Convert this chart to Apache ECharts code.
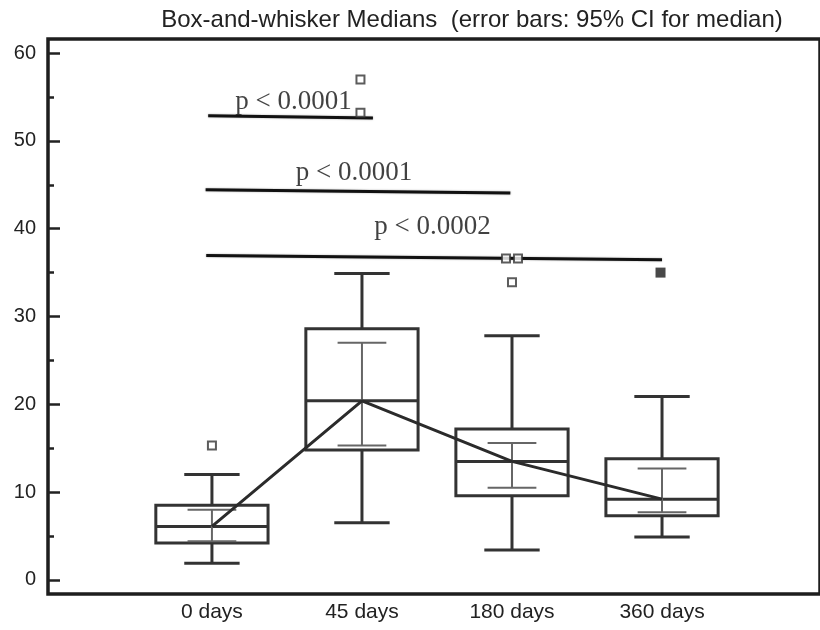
<!DOCTYPE html>
<html>
<head>
<meta charset="utf-8">
<script src="https://cdn.jsdelivr.net/npm/echarts@6/dist/echarts.min.js"></script>
<style>
html,body{margin:0;padding:0;background:#fff;}
#chart{width:820px;height:630px;}
</style>
</head>
<body>
<div id="chart"></div>
<script>
// ---- data ----
const categories = ['0 days', '45 days', '180 days', '360 days'];
const positions = [1, 2, 3, 4];
const whiskerLow = [1.9, 6.5, 3.4, 4.9];
const q1 = [4.2, 14.8, 9.6, 7.3];
const median = [6.1, 20.4, 13.5, 9.2];
const q3 = [8.5, 28.6, 17.2, 13.8];
const whiskerHigh = [12.0, 34.9, 27.8, 20.9];
const ciLow = [4.4, 15.3, 10.5, 7.7];
const ciHigh = [8.0, 27.0, 15.6, 12.7];
const outliers = [[1.0, 15.3], [1.99, 57.0], [1.99, 53.2], [3.0, 33.9], [2.96, 36.6], [3.04, 36.6]];
const farOutliers = [[3.99, 35.0]];
const yTicks = [0, 10, 20, 30, 40, 50, 60];
const yMinorTicks = [5, 15, 25, 35, 45, 55];
// significance annotations: [x0, y0, x1, y1]
const sigLines = [[0.975, 52.85, 2.073, 52.6], [0.958, 44.43, 2.989, 44.05], [0.962, 36.94, 4.0, 36.45]];
const sigLabels = ['p < 0.0001', 'p < 0.0001', 'p < 0.0002'];
const sigLabelPos = [[1.543, 54.4], [1.947, 46.3], [2.470, 40.2]];

const boxData = positions.map((x, i) => [x, whiskerLow[i], q1[i], median[i], q3[i], whiskerHigh[i], ciLow[i], ciHigh[i]]);
const medianLine = positions.map((x, i) => [x, median[i]]);

const BOX_W = 0.748, CAP_W = 0.369, CI_W = 0.325;
const dark = '#333333';

function renderBox(params, api) {
  const x = api.value(0);
  const wl = api.value(1), lq = api.value(2), md = api.value(3), uq = api.value(4), wh = api.value(5);
  const cl = api.value(6), ch = api.value(7);
  const bw = api.size([BOX_W, 0])[0];
  const cw = api.size([CAP_W, 0])[0];
  const ciw = api.size([CI_W, 0])[0];
  const pTop = api.coord([x, uq]);
  const pBot = api.coord([x, lq]);
  const pMed = api.coord([x, md]);
  const pWh = api.coord([x, wh]);
  const pWl = api.coord([x, wl]);
  const pCh = api.coord([x, ch]);
  const pCl = api.coord([x, cl]);
  const cx = pTop[0];
  const ls = {stroke: dark, lineWidth: 3, fill: null};
  const cs = {stroke: '#666', lineWidth: 2, fill: null};
  const line = (x1, y1, x2, y2, s) => ({type: 'line', shape: {x1, y1, x2, y2}, style: s});
  return {
    type: 'group',
    children: [
      {type: 'rect', shape: {x: cx - bw / 2, y: pTop[1], width: bw, height: pBot[1] - pTop[1]}, style: ls},
      line(cx - bw / 2, pMed[1], cx + bw / 2, pMed[1], ls),
      line(cx, pTop[1], cx, pWh[1], ls),
      line(cx - cw / 2, pWh[1], cx + cw / 2, pWh[1], ls),
      line(cx, pBot[1], cx, pWl[1], ls),
      line(cx - cw / 2, pWl[1], cx + cw / 2, pWl[1], ls),
      line(cx, pCh[1], cx, pCl[1], cs),
      line(cx - ciw / 2, pCh[1], cx + ciw / 2, pCh[1], cs),
      line(cx - ciw / 2, pCl[1], cx + ciw / 2, pCl[1], cs)
    ]
  };
}

const chart = echarts.init(document.getElementById('chart'), null, {renderer: 'canvas'});
const series = [
  {
    type: 'custom', renderItem: renderBox, data: boxData,
    encode: {x: 0, y: [1, 2, 3, 4, 5, 6, 7]}, z: 3, silent: true
  },
  {
    type: 'line', data: medianLine, symbol: 'none', z: 4,
    lineStyle: {color: '#2b2b2b', width: 3}
  },
  {
    type: 'scatter', data: outliers, symbol: 'rect', symbolSize: 8, z: 5,
    itemStyle: {color: '#fff', borderColor: dark, borderWidth: 2}
  },
  {
    type: 'scatter', data: farOutliers, symbol: 'rect', symbolSize: 10, z: 5,
    itemStyle: {color: '#484848', borderColor: '#484848', borderWidth: 0, opacity: 1}
  }
];
sigLines.forEach(s => {
  series.push({
    type: 'line', data: [[s[0], s[1]], [s[2], s[3]]], symbol: 'none', z: 4,
    lineStyle: {color: '#111', width: 3, shadowColor: 'rgba(0,0,0,0.35)', shadowBlur: 2}
  });
});
series.push({
  type: 'scatter', symbolSize: 0, z: 6,
  data: sigLabelPos.map((p, i) => ({value: p, label: {formatter: sigLabels[i]}})),
  label: {
    show: true, position: 'inside', align: 'center', verticalAlign: 'middle',
    fontFamily: '"Liberation Serif", "Times New Roman", serif', fontSize: 27, color: '#111'
  }
});

chart.setOption({
  animation: false,
  backgroundColor: '#fff',
  title: {
    text: 'Box-and-whisker Medians  (error bars: 95% CI for median)',
    left: 467, top: 3, textAlign: 'center',
    textStyle: {fontFamily: '"Liberation Sans", Arial, sans-serif', fontSize: 24, fontWeight: 'normal', color: '#222'}
  },
  grid: {left: 48, right: -5, top: 39, bottom: 36, show: true, borderColor: '#1e1e1e', borderWidth: 3.5, backgroundColor: 'transparent'},
  xAxis: {
    type: 'value', min: -0.0927, max: 5.053,
    axisLine: {show: false, onZero: false}, axisTick: {show: false}, splitLine: {show: false},
    axisLabel: {
      customValues: positions,
      formatter: v => categories[positions.indexOf(v)] || '',
      fontFamily: '"Liberation Sans", Arial, sans-serif', fontSize: 21, color: '#222', margin: 8
    }
  },
  yAxis: [
    {
      type: 'value', min: -1.6, max: 61.6, position: 'left',
      axisLine: {show: false, onZero: false}, splitLine: {show: false},
      axisTick: {show: true, customValues: yTicks, inside: true, length: 12, lineStyle: {color: '#222', width: 2.5}},
      axisLabel: {customValues: yTicks, fontFamily: '"Liberation Sans", Arial, sans-serif', fontSize: 20, color: '#222', margin: 12}
    },
    {
      type: 'value', min: -1.6, max: 61.6, position: 'left', offset: 0,
      axisLine: {show: false, onZero: false}, splitLine: {show: false}, axisLabel: {show: false},
      axisTick: {show: true, customValues: yMinorTicks, inside: true, length: 6, lineStyle: {color: '#222', width: 2.5}}
    }
  ],
  series: series
});
</script>
</body>
</html>
